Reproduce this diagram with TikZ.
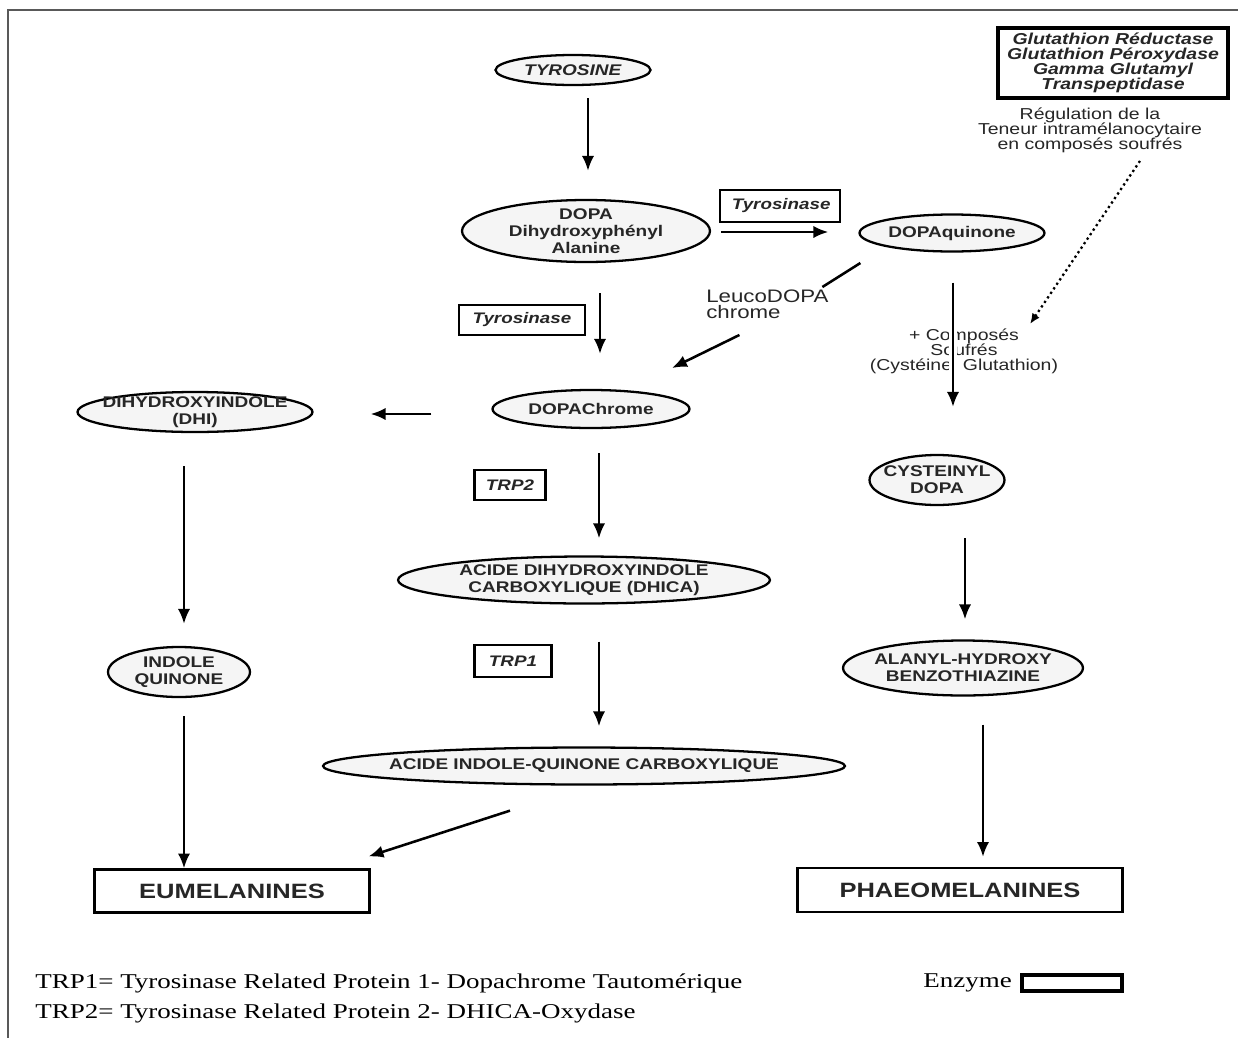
\documentclass[tikz,border=0pt]{standalone}
\usepackage{fontspec}
\usepackage{tikz}
\newfontfamily\diagfont[FakeStretch=1.23]{Liberation Sans}
\newfontfamily\notefont[FakeStretch=1.28]{Liberation Serif}
\usetikzlibrary{shapes.geometric, calc, arrows.meta}

\begin{document}
\begin{tikzpicture}
	[mol node/.style={ellipse, draw, line width=1.3pt, fill=black!4, inner sep=0pt},
	 mol text/.style={font=\diagfont\bfseries\fontsize{8.8}{9.8}\selectfont, align=center, inner sep=0pt, text=black!85},
	 enzyme node/.style={rectangle, draw, line width=1.6pt, inner sep=0pt, align=center, text=black!85,
	   font=\diagfont\bfseries\itshape\fontsize{8.7}{8.5}\selectfont},
	 end node/.style={rectangle, draw, line width=1.2pt, inner sep=0pt, text=black!85,
	   font=\diagfont\bfseries\fontsize{11.8}{12}\selectfont},
	 note text/.style={font=\diagfont\fontsize{9}{8.6}\selectfont, align=center, inner sep=0pt, text=black!85},
	 legend text/.style={font=\notefont\fontsize{12}{14}\selectfont, inner sep=0pt, anchor=west},
	 flow arrow/.style={-{Latex[length=8.5pt,width=7pt]}, line width=1.45pt},
	 x=0.02cm, y=-0.02cm]
	\useasboundingbox (0,0) rectangle (1238,1038);
	% page frame
	\draw[black!65, line width=1.1pt] (1238,10) -- (8,10) -- (8,1038);

	% molecules
	\node[mol node, minimum width=3.1cm, minimum height=0.6cm,
	  label={[mol text]center:\textit{TYROSINE}}] (tyr) at (573, 70) {};
	\node[mol node, minimum width=4.96cm, minimum height=1.24cm,
	  label={[mol text]center:DOPA\\Dihydroxyphényl\\Alanine}] (dopa) at (586, 231) {};
	\node[mol node, minimum width=3.7cm, minimum height=0.74cm,
	  label={[mol text]center:DOPAquinone}] (dquin) at (952, 233) {};
	\node[mol node, minimum width=3.94cm, minimum height=0.76cm,
	  label={[mol text]center:DOPAChrome}] (dchrome) at (591, 409) {};
	\node[mol node, minimum width=4.7cm, minimum height=0.8cm,
	  label={[mol text]center:DIHYDROXYINDOLE\\(DHI)}] (dhi) at (195, 412) {};
	\node[mol node, minimum width=2.84cm, minimum height=1.0cm,
	  label={[mol text]center:INDOLE\\QUINONE}] (iq) at (179, 672) {};
	\node[mol node, minimum width=7.44cm, minimum height=0.94cm,
	  label={[mol text]center:ACIDE DIHYDROXYINDOLE\\CARBOXYLIQUE (DHICA)}] (dhica) at (584, 580) {};
	\node[mol node, minimum width=10.44cm, minimum height=0.74cm,
	  label={[mol text]center:ACIDE INDOLE-QUINONE CARBOXYLIQUE}] (aiqc) at (584, 766) {};
	\node[mol node, minimum width=2.7cm, minimum height=1.0cm,
	  label={[mol text]center:CYSTEINYL\\DOPA}] (cyst) at (937, 480) {};
	\node[mol node, minimum width=4.8cm, minimum height=1.1cm,
	  label={[mol text]center:ALANYL-HYDROXY\\BENZOTHIAZINE}] (alanyl) at (963, 668) {};

	% enzymes
	\node[enzyme node, minimum width=2.4cm, minimum height=0.64cm] (tyrase1) at (780, 206) {\,Tyrosinase};
	\node[enzyme node, minimum width=2.52cm, minimum height=0.6cm] (tyrase2) at (522, 320) {Tyrosinase};
	\node[enzyme node, minimum width=1.42cm, minimum height=0.6cm] (trp2) at (510, 485) {TRP2};
	\node[enzyme node, minimum width=1.54cm, minimum height=0.64cm] (trp1) at (513, 661) {TRP1};
	\node[enzyme node, line width=2pt, minimum width=4.6cm, minimum height=1.4cm,
	  font=\diagfont\bfseries\itshape\fontsize{9}{8.6}\selectfont] (gluta) at (1113, 63)
	  {Glutathion Réductase\\Glutathion Péroxydase\\Gamma Glutamyl\\Transpeptidase};

	% end products
	\node[end node, minimum width=5.5cm, minimum height=0.86cm] (eu) at (232, 891) {EUMELANINES};
	\node[end node, minimum width=6.5cm, minimum height=0.88cm] (phaeo) at (960, 890) {PHAEOMELANINES};

	% side texts
	\node[note text] (reg) at (1090, 130) {Régulation de la\\Teneur intramélanocytaire\\en composés soufrés};
	\node[note text, align=left, anchor=west, font=\diagfont\fontsize{10.3}{9.3}\selectfont] (leuco) at (706, 304) {LeucoDOPA\\chrome};
	\node[note text] (comp) at (964, 351) {+ Composés\\Soufrés\\(Cystéine, Glutathion)};

	% arrows
	\draw[flow arrow] ($(tyr.south)+(15,12)$) -- ($(dopa.north)+(2,-28)$);
	\draw[flow arrow] ($(dopa.east)+(10,1)$) -- ($(dquin.west)+(-30,-1)$);
	\draw[flow arrow] ($(dopa.south)+(14,30)$) -- ($(dchrome.north)+(9,-35)$);
	\draw[line width=1.45pt] ($(dquin.west)+(2,30)$) -- ($(leuco)+(55,-17)$);
	\draw[flow arrow] ($(leuco)+(-28,31)$) -- ($(dchrome)+(81,-41)$);
	\draw[flow arrow] ($(dchrome.west)+(-60,5)$) -- ($(dhi.east)+(57,2)$);
	\draw[flow arrow] ($(dhi.south)+(-11,33)$) -- ($(iq.north)+(5,-22)$);
	\draw[flow arrow] ($(iq.south)+(5,18)$) -- ($(eu.north)+(-48,0)$);
	\draw[flow arrow] ($(dchrome.south)+(8,24)$) -- ($(dhica.north)+(15,-17)$);
	\draw[flow arrow] ($(dhica.south)+(15,37)$) -- ($(aiqc.north)+(15,-20)$);
	\draw[flow arrow] ($(aiqc.south)+(-74,25)$) -- ($(eu.north east)+(-2,-12)$);
	\draw[flow arrow, preaction={draw=white, line width=5pt}] ($(dquin.south)+(1,30)$) -- ($(cyst.north)+(16,-47)$);
	\draw[flow arrow] ($(cyst.south)+(28,32)$) -- ($(alanyl.north)+(2,-20)$);
	\draw[flow arrow] ($(alanyl.south)+(20,28)$) -- ($(phaeo.north)+(23,-10)$);
	\draw[flow arrow, -{Latex[length=6pt,width=5pt]}, line width=1.3pt, dash pattern=on 1.3pt off 1.8pt]
	  ($(reg.south)+(50,8)$) -- ($(comp.north)+(66,-4)$);

	% legend
	\node[legend text] (leg1) at (35, 983) {TRP1= Tyrosinase Related Protein 1- Dopachrome Tautomérique};
	\node[legend text] (leg2) at (35, 1013) {TRP2= Tyrosinase Related Protein 2- DHICA-Oxydase};
	\node[legend text] (enz) at (923, 983) {Enzyme};
	\node[rectangle, draw, line width=2.4pt, minimum width=2cm, minimum height=0.32cm] (enzbox) at (1072, 983) {};
\end{tikzpicture}
\end{document}
